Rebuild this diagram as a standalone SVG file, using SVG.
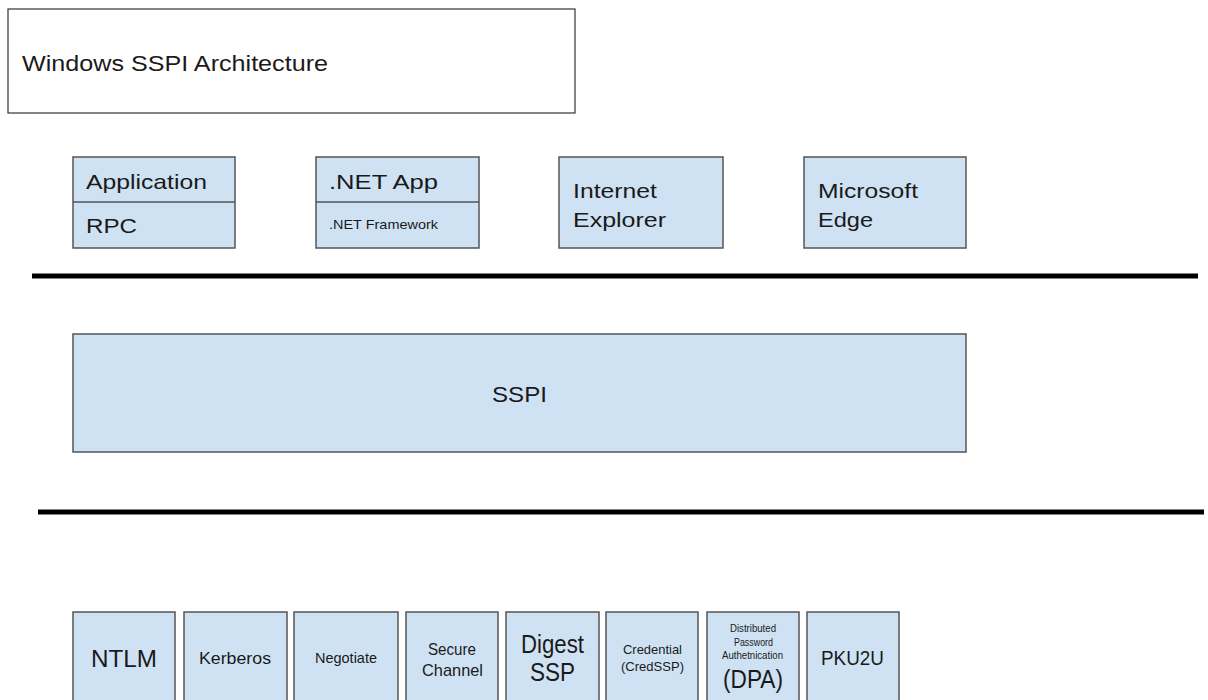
<svg xmlns="http://www.w3.org/2000/svg" width="1208" height="700" viewBox="0 0 1208 700">
<style>
.b{fill:#cfe2f3;stroke:#555;stroke-width:1.5}
.t{font-family:"Liberation Sans",Arial,sans-serif;fill:#1a1a1a}
.bar{stroke:#000;stroke-width:5}
</style>
<rect width="1208" height="700" fill="#fff"/>
<g id="title">
<rect x="8" y="9" width="567" height="104" fill="#fff" stroke="#333" stroke-width="1.2"/>
<text class="t" x="22" y="71" font-size="22.5" textLength="306" lengthAdjust="spacingAndGlyphs">Windows SSPI Architecture</text>
</g>
<g id="app">
<rect class="b" x="73" y="157" width="162" height="91"/>
<line x1="73" y1="202" x2="235" y2="202" stroke="#555" stroke-width="1.5"/>
<text class="t" x="86" y="189" font-size="21" textLength="121" lengthAdjust="spacingAndGlyphs">Application</text>
<text class="t" x="86" y="233" font-size="21" textLength="51" lengthAdjust="spacingAndGlyphs">RPC</text>
</g>
<g id="netapp">
<rect class="b" x="316" y="157" width="163" height="91"/>
<line x1="316" y1="202" x2="479" y2="202" stroke="#555" stroke-width="1.5"/>
<text class="t" x="329" y="189" font-size="21" textLength="109" lengthAdjust="spacingAndGlyphs">.NET App</text>
<text class="t" x="329" y="229" font-size="13" textLength="109" lengthAdjust="spacingAndGlyphs">.NET Framework</text>
</g>
<g id="ie">
<rect class="b" x="559" y="157" width="164" height="91"/>
<text class="t" x="573" y="198" font-size="21" textLength="84" lengthAdjust="spacingAndGlyphs">Internet</text>
<text class="t" x="573" y="227" font-size="21" textLength="93" lengthAdjust="spacingAndGlyphs">Explorer</text>
</g>
<g id="edge">
<rect class="b" x="804" y="157" width="162" height="91"/>
<text class="t" x="818" y="198" font-size="21" textLength="100" lengthAdjust="spacingAndGlyphs">Microsoft</text>
<text class="t" x="818" y="227" font-size="21" textLength="55" lengthAdjust="spacingAndGlyphs">Edge</text>
</g>
<g id="connectors">
<line class="bar" x1="32" y1="276" x2="1198" y2="276"/>
<line class="bar" x1="38" y1="512" x2="1204" y2="512"/>
</g>
<g id="sspi">
<rect class="b" x="73" y="334" width="893" height="118"/>
<text class="t" x="492" y="402" font-size="22" textLength="55" lengthAdjust="spacingAndGlyphs">SSPI</text>
</g>
<g id="ntlm">
<rect class="b" x="73" y="612" width="102" height="100"/>
<text class="t" x="91" y="667" font-size="24" textLength="66" lengthAdjust="spacingAndGlyphs">NTLM</text>
</g>
<g id="kerberos">
<rect class="b" x="184" y="612" width="103" height="100"/>
<text class="t" x="199" y="664" font-size="16" textLength="72" lengthAdjust="spacingAndGlyphs">Kerberos</text>
</g>
<g id="negotiate">
<rect class="b" x="294" y="612" width="104" height="100"/>
<text class="t" x="315" y="663" font-size="15" textLength="62" lengthAdjust="spacingAndGlyphs">Negotiate</text>
</g>
<g id="schannel">
<rect class="b" x="406" y="612" width="92" height="100"/>
<text class="t" x="428" y="655" font-size="17" textLength="48" lengthAdjust="spacingAndGlyphs">Secure</text>
<text class="t" x="422" y="676" font-size="17" textLength="61" lengthAdjust="spacingAndGlyphs">Channel</text>
</g>
<g id="digest">
<rect class="b" x="506" y="612" width="93" height="100"/>
<text class="t" x="521" y="653" font-size="26" textLength="63" lengthAdjust="spacingAndGlyphs">Digest</text>
<text class="t" x="530" y="681" font-size="26" textLength="45" lengthAdjust="spacingAndGlyphs">SSP</text>
</g>
<g id="credssp">
<rect class="b" x="606" y="612" width="92" height="100"/>
<text class="t" x="623" y="654" font-size="13" textLength="59" lengthAdjust="spacingAndGlyphs">Credential</text>
<text class="t" x="621" y="671" font-size="13" textLength="63" lengthAdjust="spacingAndGlyphs">(CredSSP)</text>
</g>
<g id="dpa">
<rect class="b" x="707" y="612" width="92" height="100"/>
<text class="t" x="730" y="632" font-size="10" textLength="46" lengthAdjust="spacingAndGlyphs">Distributed</text>
<text class="t" x="734" y="646" font-size="10" textLength="39" lengthAdjust="spacingAndGlyphs">Password</text>
<text class="t" x="722" y="659" font-size="10" textLength="61" lengthAdjust="spacingAndGlyphs">Authetnication</text>
<text class="t" x="723" y="688" font-size="25" textLength="60" lengthAdjust="spacingAndGlyphs">(DPA)</text>
</g>
<g id="pku2u">
<rect class="b" x="807" y="612" width="92" height="100"/>
<text class="t" x="821" y="665" font-size="21" textLength="63" lengthAdjust="spacingAndGlyphs">PKU2U</text>
</g>
</svg>
